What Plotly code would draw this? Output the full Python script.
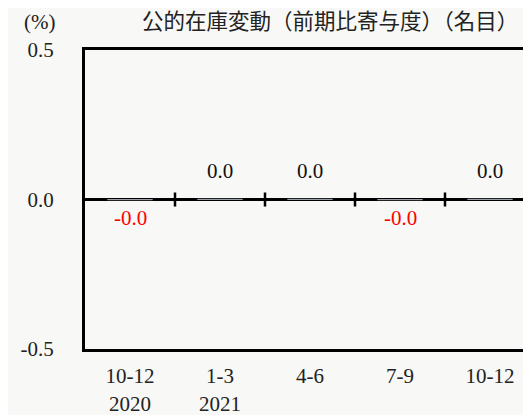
# 公的在庫変動(前期比寄与度)(名目) の棒グラフ
import plotly.graph_objects as go

quarters = ["10-12<br>2020", "1-3<br>2021", "4-6", "7-9", "10-12"]
values = [-0.001, 0.001, 0.001, -0.001, 0.001]
ytick_vals = [0.5, 0.0, -0.5]
ytick_text = ["0.5", "0.0", "-0.5"]

num_font = "Liberation Serif"
jp_font = "Noto Sans CJK JP"

x = list(range(len(quarters)))

fig = go.Figure()
fig.add_trace(go.Bar(x=x, y=values, marker_color="black", width=0.5, hoverinfo="skip"))

# 数値ラベル(マイナスは赤)
for xi, v in zip(x, values):
    fig.add_annotation(
        x=xi, y=v, xref="x", yref="y",
        text=f"{v:.1f}", showarrow=False, xanchor="center",
        font=dict(family=num_font, size=21, color="red" if v < 0 else "#111"),
        yanchor="bottom" if v >= 0 else "top",
        yshift=14 if v >= 0 else -4,
    )

# 区切りの目盛り(ゼロ線上)
for b in x[:-1]:
    fig.add_shape(type="line", xref="x", yref="y", x0=b + 0.5, x1=b + 0.5,
                  ysizemode="pixel", yanchor=0, y0=-7, y1=7,
                  line=dict(color="black", width=2.5))

fig.add_annotation(text="(%)", xref="paper", yref="paper", x=-0.101, y=1.093,
                   xanchor="center", yanchor="middle",
                   showarrow=False, font=dict(family=num_font, size=21, color="#222"))

fig.update_layout(
    width=523, height=407,
    margin=dict(l=77, r=0, t=42, b=66),
    paper_bgcolor="#f8f8f6", plot_bgcolor="#f8f8f6",
    showlegend=False,
    title=dict(text="公的在庫変動（前期比寄与度）（名目）", x=0.616, xanchor="center",
               y=0.966, yanchor="middle",
               font=dict(family=jp_font, size=21.5, color="#222")),
)
fig.update_xaxes(
    range=[-0.5, -0.5 + 446 / 90], tickvals=x, ticktext=quarters,
    showgrid=False, zeroline=False, showline=True, mirror=True,
    linecolor="black", linewidth=3, ticks="",
    ticklabelstandoff=6,
    tickfont=dict(family=num_font, size=21, color="#222"),
)
fig.update_yaxes(
    range=[-0.5, 0.5], tickvals=ytick_vals, ticktext=ytick_text,
    showgrid=False, zeroline=True, zerolinecolor="black", zerolinewidth=3,
    showline=True, linecolor="black", linewidth=3, ticks="",
    ticklabelstandoff=24,
    tickfont=dict(family=num_font, size=21, color="#222"),
)

fig.write_html("out.html")
